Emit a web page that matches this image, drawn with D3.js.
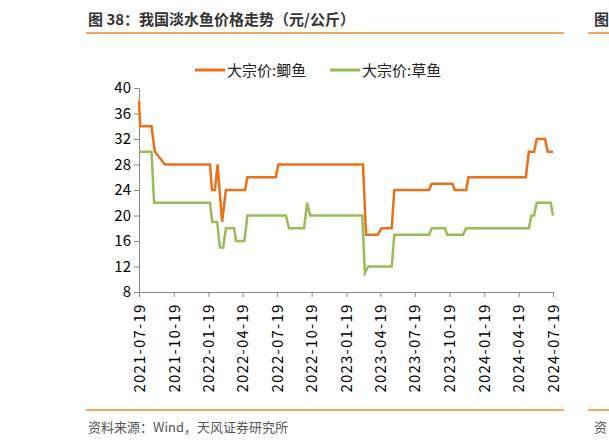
<!DOCTYPE html><html><head><meta charset="utf-8"><script src="https://cdn.jsdelivr.net/npm/d3@7"></script>
<style>body{margin:0;background:#fff}text{font-family:"Noto Sans CJK SC","Liberation Sans",sans-serif}</style></head><body><svg id="c" width="609" height="445"></svg>
<script>
const tickLabels=["2021-07-19","2021-10-19","2022-01-19","2022-04-19","2022-07-19","2022-10-19","2023-01-19","2023-04-19","2023-07-19","2023-10-19","2024-01-19","2024-04-19","2024-07-19"];
const yTicks=[8,12,16,20,24,28,32,36,40];
const carpDates=["2021-07-19","2021-07-22","2021-08-21","2021-08-30","2021-09-26","2022-01-23","2022-01-28","2022-02-05","2022-02-12","2022-02-24","2022-03-06","2022-04-26","2022-05-02","2022-07-16","2022-07-23","2023-03-04","2023-03-12","2023-04-12","2023-04-22","2023-05-19","2023-05-26","2023-08-26","2023-09-02","2023-10-27","2023-11-02","2023-12-02","2023-12-08","2024-05-08","2024-05-16","2024-05-30","2024-06-06","2024-06-28","2024-07-05","2024-07-19"];
const carpValues=[38,34,34,30,28,28,24,24,28,19,24,24,26,26,28,28,17,17,18,18,24,24,25,25,24,24,26,26,30,30,32,32,30,30];
const grassDates=["2021-07-19","2021-08-21","2021-08-28","2022-01-23","2022-01-29","2022-02-11","2022-02-18","2022-02-27","2022-03-06","2022-03-28","2022-04-02","2022-04-24","2022-05-02","2022-08-12","2022-08-20","2022-09-29","2022-10-07","2022-10-15","2023-03-02","2023-03-09","2023-03-18","2023-05-19","2023-05-26","2023-08-26","2023-09-02","2023-10-07","2023-10-13","2023-11-24","2023-12-02","2024-05-16","2024-05-23","2024-05-30","2024-06-06","2024-07-13","2024-07-19"];
const grassValues=[30,30,22,22,19,19,15,15,18,18,16,16,20,20,18,18,22,20,20,11,12,12,17,17,18,18,17,17,18,18,20,20,22,22,20];
const seriesNames=["大宗价:鲫鱼","大宗价:草鱼"];
const colors=["#E8711A","#9BBB59"];
const p=d3.timeParse("%Y-%m-%d");
const svg=d3.select("#c");
const x=d3.scaleTime().domain([p(tickLabels[0]),p(tickLabels[12])]).range([139,553]);
const y=d3.scaleLinear().domain([8,40]).range([292,88]);
svg.append("text").attr("x",88).attr("y",25).attr("font-size",15).attr("font-weight","bold").attr("fill","#333").text("图 38：我国淡水鱼价格走势（元/公斤）");
svg.append("line").attr("x1",86).attr("x2",564).attr("y1",33).attr("y2",33).attr("stroke","#F08A2E").attr("stroke-width",1.5);
svg.append("line").attr("x1",588).attr("x2",609).attr("y1",33).attr("y2",33).attr("stroke","#F08A2E").attr("stroke-width",1.5);
svg.append("line").attr("x1",86).attr("x2",564).attr("y1",410).attr("y2",410).attr("stroke","#F08A2E").attr("stroke-width",1.5);
svg.append("line").attr("x1",588).attr("x2",609).attr("y1",410).attr("y2",410).attr("stroke","#F08A2E").attr("stroke-width",1.5);
svg.append("text").attr("x",88).attr("y",432).attr("font-size",13).attr("fill","#555").text("资料来源：Wind，天风证券研究所");
svg.append("text").attr("x",594).attr("y",25).attr("font-size",15).attr("font-weight","bold").attr("fill","#333").text("图");
svg.append("text").attr("x",594).attr("y",432).attr("font-size",13).attr("fill","#555").text("资");
const ya=svg.append("g").attr("transform","translate(139,0)").call(d3.axisLeft(y).tickValues(yTicks).tickSize(5));
ya.selectAll("text").attr("font-size",15).attr("fill","#000").attr("font-family","Liberation Sans");
const xa=svg.append("g").attr("transform","translate(0,292)").call(d3.axisBottom(x).tickValues(tickLabels.map(p)).tickFormat(d3.timeFormat("%Y-%m-%d")).tickSize(5));
xa.selectAll("text").attr("font-size",15).attr("letter-spacing","1.2px").attr("fill","#000").attr("font-family","Liberation Sans").attr("transform","rotate(-90)").attr("text-anchor","end").attr("dx","-0.5em").attr("dy","0.35em").attr("x",-4).attr("y",0);
svg.selectAll(".domain,.tick line").attr("stroke","#888");
const line=d3.line().x(d=>x(d[0])).y(d=>y(d[1]));
[[carpDates,carpValues],[grassDates,grassValues]].forEach(([ds,vs],i)=>{
 svg.append("path").datum(ds.map((d,j)=>[p(d),vs[j]])).attr("d",line).attr("fill","none").attr("stroke",colors[i]).attr("stroke-width",2.5);
});
const lx=[195,330];
seriesNames.forEach((n,i)=>{
 svg.append("line").attr("x1",lx[i]).attr("x2",lx[i]+30).attr("y1",70).attr("y2",70).attr("stroke",colors[i]).attr("stroke-width",3);
 svg.append("text").attr("x",lx[i]+32).attr("y",76).attr("font-size",15).attr("fill","#222").text(n);
});
</script></body></html>
